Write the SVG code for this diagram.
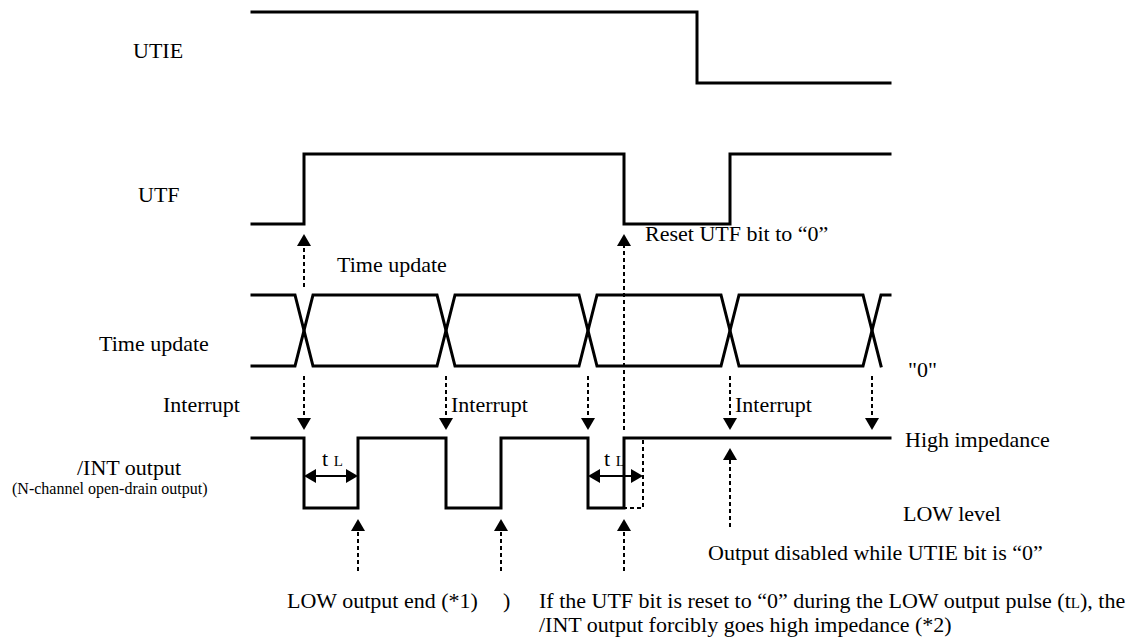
<svg xmlns="http://www.w3.org/2000/svg" width="1147" height="639" viewBox="0 0 1147 639" font-family="'Liberation Serif', 'Times New Roman', Times, 'DejaVu Serif', serif">
<style>
.sig{fill:none;stroke:#000;stroke-width:3;stroke-linejoin:miter;stroke-linecap:square}
.dash{fill:none;stroke:#000;stroke-width:2;stroke-dasharray:4 3}
.dim{fill:none;stroke:#000;stroke-width:2}
text{font-family:'Liberation Serif','Times New Roman',Times,'DejaVu Serif',serif;font-size:22px;fill:#000}
.sm{font-size:16px}
.sub{font-size:15px}
</style>
<defs>
<marker id="ah" markerUnits="userSpaceOnUse" markerWidth="13" markerHeight="14" refX="0" refY="7" orient="auto-start-reverse" viewBox="0 0 13 14">
<path d="M0,0 L12,7 L0,14 z" fill="#000"/>
</marker>
</defs>
<rect width="1147" height="639" fill="#fff"/>
<g id="labels">
<text x="133" y="58">UTIE</text>
<text x="138" y="202">UTF</text>
<text x="99" y="351">Time update</text>
<text x="163" y="412">Interrupt</text>
<text x="77" y="475">/INT output</text>
<text class="sm" x="12" y="494">(N-channel open-drain output)</text>
</g>
<g id="utie">
<path class="sig" d="M252,12 H697 V83 H890"/>
</g>
<g id="utf">
<path class="sig" d="M252,224 H304 V154 H624 V224 H730 V154 H890"/>
</g>
<g id="bus">
<path class="sig" d="M252,295 L295,295 L313,366 L437,366 L455,295 L579,295 L597,366 L721,366 L739,295 L863,295 L881,366"/>
<path class="sig" d="M252,366 L295,366 L313,295 L437,295 L455,366 L579,366 L597,295 L721,295 L739,366 L863,366 L881,295 L890,295"/>
<text x="908" y="377">"0"</text>
</g>
<g id="int">
<path class="sig" d="M252,438 H304 V508 H358 V438 H446 V508 H501 V438 H588 V508 H624 V438 H890"/>
<path class="dash" d="M643,440 V508 H624"/>
<text x="905" y="447">High impedance</text>
<text x="903" y="521">LOW level</text>
</g>
<g id="connectors">
<line class="dash" x1="304" y1="287" x2="304" y2="246" marker-end="url(#ah)"/>
<line class="dash" x1="624" y1="430" x2="624" y2="246" marker-end="url(#ah)"/>
<line class="dash" x1="304" y1="376" x2="304" y2="418" marker-end="url(#ah)"/>
<line class="dash" x1="446" y1="376" x2="446" y2="418" marker-end="url(#ah)"/>
<line class="dash" x1="588" y1="376" x2="588" y2="418" marker-end="url(#ah)"/>
<line class="dash" x1="730" y1="376" x2="730" y2="418" marker-end="url(#ah)"/>
<line class="dash" x1="872" y1="376" x2="872" y2="418" marker-end="url(#ah)"/>
<line class="dash" x1="358" y1="571" x2="358" y2="531" marker-end="url(#ah)"/>
<line class="dash" x1="501" y1="571" x2="501" y2="531" marker-end="url(#ah)"/>
<line class="dash" x1="624" y1="571" x2="624" y2="531" marker-end="url(#ah)"/>
<line class="dash" x1="730" y1="527" x2="730" y2="460" marker-end="url(#ah)"/>
<line class="dim" x1="316" y1="476" x2="346" y2="476" marker-start="url(#ah)" marker-end="url(#ah)"/>
<line class="dim" x1="600" y1="476" x2="631" y2="476" marker-start="url(#ah)" marker-end="url(#ah)"/>
</g>
<g id="annotations">
<text x="337" y="272">Time update</text>
<text x="645" y="241">Reset UTF bit to “0”</text>
<text x="451" y="412">Interrupt</text>
<text x="735" y="412">Interrupt</text>
<text x="322" y="466">t <tspan class="sub">L</tspan></text>
<text x="604" y="466">t <tspan class="sub">L</tspan></text>
<text x="708" y="560">Output disabled while UTIE bit is “0”</text>
<text x="287" y="608">LOW output end (*1)</text>
<text x="503" y="608">)</text>
<text x="539" y="608">If the UTF bit is reset to “0” during the LOW output pulse (t<tspan class="sub">L</tspan>), the</text>
<text x="539" y="632">/INT output forcibly goes high impedance (*2)</text>
</g>
</svg>
